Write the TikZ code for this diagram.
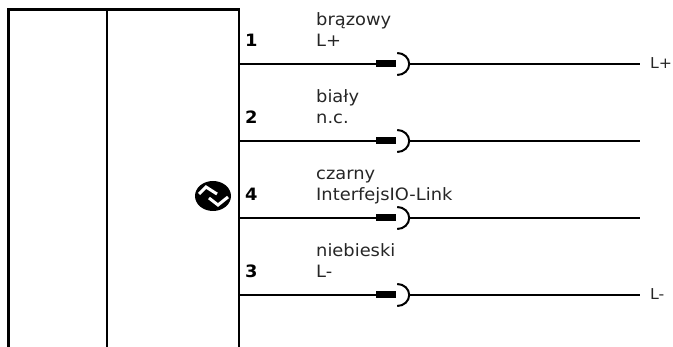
\documentclass[tikz,border=0pt]{standalone}
\usepackage{fontspec}
\setmainfont[FakeStretch=1.05]{DejaVu Sans}
\usetikzlibrary{positioning, shapes.geometric}

\begin{document}
\begin{tikzpicture}[
        x=1pt,
        y=-1pt,
        node distance=0pt,
        frameline/.style={
            line width=2.3pt,
            black
        },
        wire/.style={
            line width=2pt,
            black
        },
        plug/.style={
            rectangle,
            inner sep=0pt,
            minimum width=20pt,
            minimum height=7pt,
            fill=black
        },
        caption/.style={
            inner sep=0pt,
            anchor=base west,
            font=\fontsize{17}{20}\selectfont,
            text=black!85
        },
        outlabel/.style={
            inner sep=0pt,
            anchor=base west,
            font=\fontsize{15}{20}\selectfont,
            text=black!85
        },
        pinnum/.style={
            inner sep=0pt,
            anchor=base west,
            font=\fontsize{17}{20}\selectfont\bfseries
        }
    ]
        \useasboundingbox (0, 0) rectangle (673, 347);

        % housing
        \draw [frameline] (8.5, 347) |- (239, 9.5) -- (239, 347);
        \draw [frameline] (107, 9.5) -- (107, 347);

        % wire starts on the housing
        \coordinate (start1) at (239, 64);
        \coordinate (start2) at (239, 141);
        \coordinate (start3) at (239, 218);
        \coordinate (start4) at (239, 295);

        % plugs
        \node (plug1) [plug] at (386, 64) {};
        \node (plug2) [plug] at (386, 141) {};
        \node (plug3) [plug] at (386, 218) {};
        \node (plug4) [plug] at (386, 295) {};

        \node (sock1) [coordinate, right=13pt of plug1] {};
        \node (sock2) [coordinate, right=13pt of plug2] {};
        \node (sock3) [coordinate, right=13pt of plug3] {};
        \node (sock4) [coordinate, right=13pt of plug4] {};

        \coordinate (end1) at (640, 64);
        \coordinate (end2) at (640, 141);
        \coordinate (end3) at (640, 218);
        \coordinate (end4) at (640, 295);

        \draw [wire] (start1) -- (plug1);
        \draw [wire] (start2) -- (plug2);
        \draw [wire] (start3) -- (plug3);
        \draw [wire] (start4) -- (plug4);

        \draw [wire] (sock1) -- (end1);
        \draw [wire] (sock2) -- (end2);
        \draw [wire] (sock3) -- (end3);
        \draw [wire] (sock4) -- (end4);

        % sockets
        \draw [wire] (plug1.east) ++(1, -11) arc[start angle=90, end angle=-90, x radius=12, y radius=-11];
        \draw [wire] (plug2.east) ++(1, -11) arc[start angle=90, end angle=-90, x radius=12, y radius=-11];
        \draw [wire] (plug3.east) ++(1, -11) arc[start angle=90, end angle=-90, x radius=12, y radius=-11];
        \draw [wire] (plug4.east) ++(1, -11) arc[start angle=90, end angle=-90, x radius=12, y radius=-11];

        % pin numbers
        \node (num1) [pinnum] at (245, 47) {1};
        \node (num2) [pinnum] at (245, 124) {2};
        \node (num4) [pinnum] at (245, 201) {4};
        \node (num3) [pinnum] at (245, 278) {3};

        % wire colours and functions
        \node (col1) [caption] at (316, 26) {brązowy};
        \node (fun1) [caption] at (316, 47) {L+};
        \node (col2) [caption] at (316, 103) {biały};
        \node (fun2) [caption] at (316, 124) {n.c.};
        \node (col3) [caption] at (316, 180) {czarny};
        \node (fun3) [caption] at (316, 201) {InterfejsIO-Link};
        \node (col4) [caption] at (316, 257) {niebieski};
        \node (fun4) [caption] at (316, 278) {L-};

        \node (out1) [outlabel] at (650, 69) {L+};
        \node (out4) [outlabel] at (650, 300) {L-};

        % IO-Link symbol
        \node (iolink) [ellipse, fill=black, minimum width=36pt, minimum height=30pt, inner sep=0pt] at (213, 196) {};
        \draw [white, line width=3pt] (199, 194) -- (206, 187) -- (217, 194);
        \draw [white, line width=3pt] (209, 198) -- (218, 205) -- (228, 197);
    \end{tikzpicture}
\end{document}
